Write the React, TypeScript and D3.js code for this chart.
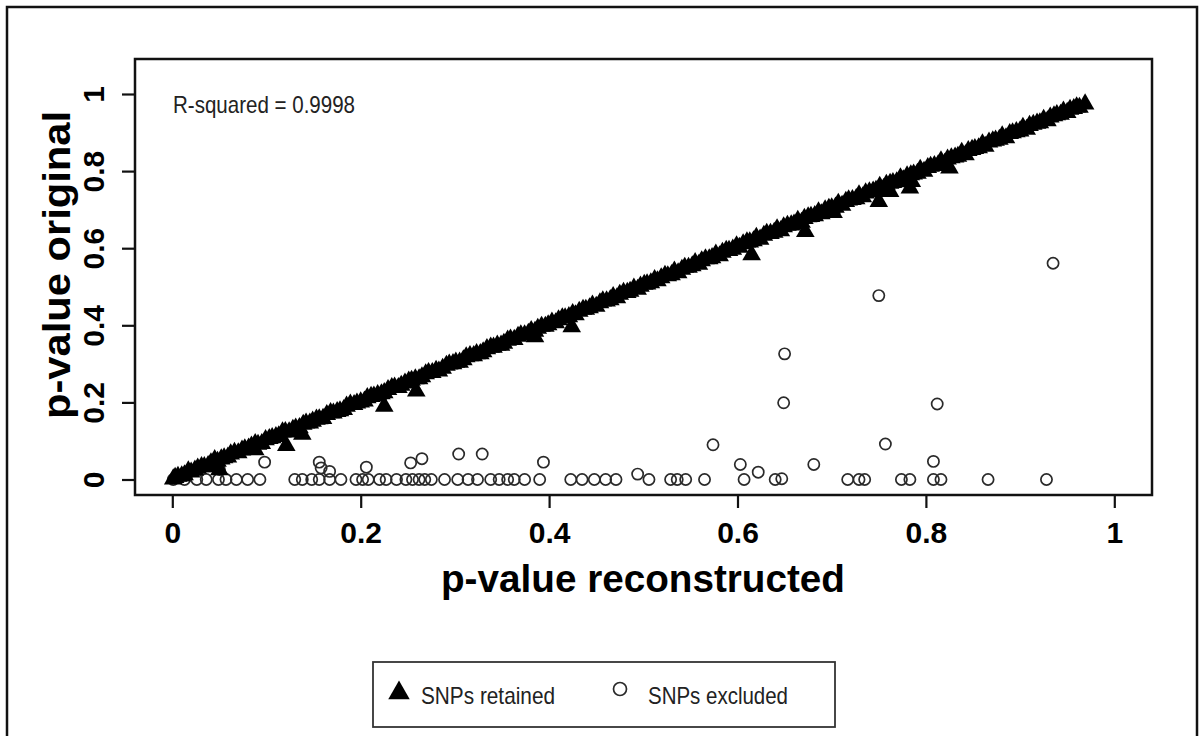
import React, { useEffect, useRef } from "react";
import * as d3 from "d3";

// retained SNPs (p reconstructed, p original) - the thick diagonal band
const retainedX = [
  0.001, 0.003, 0.010, 0.017, 0.024, 0.031, 0.038, 0.045, 0.052, 0.059, 0.066, 0.074, 0.081, 0.088,
  0.095, 0.103, 0.110, 0.117, 0.124, 0.131, 0.139, 0.146, 0.153, 0.160, 0.168, 0.175, 0.182, 0.189,
  0.196, 0.204, 0.211, 0.218, 0.225, 0.233, 0.240, 0.247, 0.254, 0.262, 0.269, 0.276, 0.283, 0.291,
  0.298, 0.305, 0.312, 0.320, 0.327, 0.334, 0.341, 0.349, 0.356, 0.363, 0.370, 0.378, 0.385, 0.392,
  0.399, 0.407, 0.414, 0.421, 0.428, 0.436, 0.443, 0.450, 0.457, 0.465, 0.472, 0.479, 0.486, 0.494,
  0.501, 0.508, 0.515, 0.523, 0.530, 0.537, 0.544, 0.552, 0.559, 0.566, 0.573, 0.581, 0.588, 0.595,
  0.602, 0.610, 0.617, 0.624, 0.631, 0.639, 0.646, 0.653, 0.660, 0.668, 0.675, 0.682, 0.689, 0.697,
  0.704, 0.711, 0.718, 0.726, 0.733, 0.740, 0.747, 0.755, 0.762, 0.769, 0.776, 0.784, 0.791, 0.798,
  0.805, 0.813, 0.820, 0.827, 0.834, 0.842, 0.849, 0.856, 0.863, 0.871, 0.878, 0.885, 0.892, 0.900,
  0.907, 0.914, 0.921, 0.929, 0.936, 0.943, 0.950, 0.957, 0.963, 0.969,
  // second pass, in between
  0.006, 0.013, 0.020, 0.027, 0.034, 0.041, 0.048, 0.055, 0.062, 0.070, 0.077, 0.084, 0.091, 0.099,
  0.106, 0.113, 0.120, 0.128, 0.135, 0.142, 0.149, 0.156, 0.164, 0.171, 0.178, 0.185, 0.193, 0.200,
  0.207, 0.214, 0.222, 0.229, 0.236, 0.243, 0.251, 0.258, 0.265, 0.272, 0.280, 0.287, 0.294, 0.301,
  0.309, 0.316, 0.323, 0.330, 0.338, 0.345, 0.352, 0.359, 0.367, 0.374, 0.381, 0.388, 0.396, 0.403,
  0.410, 0.417, 0.425, 0.432, 0.439, 0.446, 0.454, 0.461, 0.468, 0.475, 0.483, 0.490, 0.497, 0.504,
  0.512, 0.519, 0.526, 0.533, 0.541, 0.548, 0.555, 0.562, 0.570, 0.577, 0.584, 0.591, 0.599, 0.606,
  0.613, 0.620, 0.628, 0.635, 0.642, 0.649, 0.657, 0.664, 0.671, 0.678, 0.686, 0.693, 0.700, 0.707,
  0.715, 0.722, 0.729, 0.736, 0.744, 0.751, 0.758, 0.765, 0.773, 0.780, 0.787, 0.794, 0.802, 0.809,
  0.816, 0.823, 0.831, 0.838, 0.845, 0.852, 0.860, 0.867, 0.874, 0.881, 0.889, 0.896, 0.903, 0.910,
  0.918, 0.925, 0.932, 0.939, 0.946, 0.953, 0.960,
  // the few that fall below the line
  0.050, 0.088, 0.121, 0.138, 0.225, 0.259, 0.385, 0.424, 0.615, 0.672, 0.702, 0.750, 0.762, 0.783,
  0.785, 0.825,
];
const retainedY = [
  0.001, 0.005, 0.009, 0.022, 0.024, 0.033, 0.036, 0.051, 0.053, 0.058, 0.070, 0.076, 0.081, 0.093,
  0.093, 0.106, 0.111, 0.123, 0.123, 0.133, 0.143, 0.146, 0.156, 0.158, 0.173, 0.176, 0.181, 0.195,
  0.198, 0.203, 0.215, 0.220, 0.225, 0.238, 0.238, 0.250, 0.257, 0.261, 0.274, 0.277, 0.281, 0.296,
  0.300, 0.304, 0.318, 0.321, 0.326, 0.339, 0.343, 0.348, 0.361, 0.363, 0.375, 0.379, 0.384, 0.397,
  0.401, 0.406, 0.419, 0.422, 0.427, 0.441, 0.445, 0.449, 0.463, 0.466, 0.471, 0.485, 0.488, 0.493,
  0.506, 0.510, 0.515, 0.529, 0.531, 0.536, 0.550, 0.554, 0.558, 0.572, 0.575, 0.580, 0.594, 0.597,
  0.602, 0.616, 0.619, 0.623, 0.638, 0.641, 0.645, 0.659, 0.662, 0.667, 0.681, 0.684, 0.689, 0.703,
  0.706, 0.711, 0.725, 0.728, 0.733, 0.746, 0.750, 0.754, 0.768, 0.772, 0.777, 0.790, 0.794, 0.799,
  0.812, 0.816, 0.820, 0.834, 0.838, 0.842, 0.856, 0.860, 0.864, 0.878, 0.882, 0.886, 0.899, 0.904,
  0.908, 0.921, 0.925, 0.930, 0.943, 0.947, 0.952, 0.962, 0.965, 0.974,
  0.008, 0.012, 0.019, 0.029, 0.033, 0.043, 0.047, 0.056, 0.066, 0.069, 0.079, 0.086, 0.091, 0.103,
  0.108, 0.113, 0.124, 0.130, 0.134, 0.146, 0.151, 0.157, 0.168, 0.172, 0.178, 0.190, 0.194, 0.201,
  0.212, 0.216, 0.222, 0.233, 0.239, 0.244, 0.255, 0.261, 0.266, 0.277, 0.283, 0.288, 0.299, 0.304,
  0.310, 0.321, 0.326, 0.331, 0.343, 0.348, 0.353, 0.364, 0.371, 0.375, 0.386, 0.392, 0.397, 0.408,
  0.414, 0.419, 0.430, 0.436, 0.441, 0.452, 0.458, 0.463, 0.474, 0.480, 0.485, 0.496, 0.501, 0.507,
  0.518, 0.523, 0.528, 0.540, 0.545, 0.550, 0.562, 0.567, 0.572, 0.584, 0.589, 0.594, 0.606, 0.611,
  0.616, 0.628, 0.633, 0.638, 0.650, 0.655, 0.660, 0.672, 0.677, 0.682, 0.694, 0.699, 0.704, 0.716,
  0.721, 0.726, 0.738, 0.743, 0.748, 0.760, 0.765, 0.770, 0.782, 0.787, 0.792, 0.804, 0.809, 0.814,
  0.826, 0.831, 0.836, 0.848, 0.853, 0.858, 0.870, 0.875, 0.880, 0.891, 0.897, 0.902, 0.913, 0.918,
  0.924, 0.934, 0.940, 0.946, 0.955, 0.960, 0.966,
  0.025, 0.077, 0.088, 0.117, 0.190, 0.229, 0.370, 0.396, 0.583, 0.643, 0.692, 0.721, 0.747, 0.756,
  0.773, 0.808,
];

// excluded SNPs
const excludedX = [
  0.001, 0.013, 0.026, 0.036, 0.049, 0.057, 0.068, 0.080, 0.093, 0.130, 0.138, 0.148, 0.156, 0.167,
  0.179, 0.195, 0.202, 0.208, 0.220, 0.227, 0.238, 0.248, 0.255, 0.262, 0.268, 0.275, 0.289, 0.303,
  0.314, 0.324, 0.338, 0.347, 0.356, 0.363, 0.374, 0.390, 0.423, 0.435, 0.448, 0.460, 0.471, 0.494,
  0.506, 0.529, 0.536, 0.545, 0.565, 0.607, 0.622, 0.640, 0.647, 0.717, 0.729, 0.735, 0.774, 0.783,
  0.808, 0.816, 0.866, 0.928,
  0.050, 0.098, 0.156, 0.158, 0.167, 0.206, 0.253, 0.265, 0.304, 0.329, 0.394, 0.574, 0.603, 0.681,
  0.757, 0.808, 0.649, 0.812, 0.650, 0.750, 0.935,
];
const excludedY = [
  0, 0, 0, 0, 0, 0, 0, 0, 0, 0, 0, 0, 0, 0,
  0, 0, 0, 0, 0, 0, 0, 0, 0, 0, 0, 0, 0, 0,
  0, 0, 0, 0, 0, 0, 0, 0, 0, 0, 0, 0, 0, 0.014,
  0, 0, 0, 0, 0, 0, 0.019, 0, 0.002, 0, 0, 0, 0, 0,
  0, 0, 0, 0,
  0.026, 0.045, 0.045, 0.030, 0.021, 0.032, 0.043, 0.054, 0.066, 0.066, 0.045, 0.090, 0.039, 0.039,
  0.092, 0.047, 0.199, 0.196, 0.326, 0.477, 0.561,
];

const ticks = [0, 0.2, 0.4, 0.6, 0.8, 1];
const tickLabels = ["0", "0.2", "0.4", "0.6", "0.8", "1"];
const legendLabels = ["SNPs retained", "SNPs excluded"];
const rsqText = "R-squared = 0.9998";

const W = 1202, H = 736;
const font = "'Liberation Sans', Arial, sans-serif";

export default function App() {
  const ref = useRef<SVGSVGElement>(null);

  useEffect(() => {
    const svg = d3.select(ref.current);
    svg.selectAll("*").remove();

    const box = { left: 135, top: 59, right: 1152, bottom: 495 };
    const x = d3.scaleLinear().domain([0, 1]).range([172.3, 1114.3]);
    const y = d3.scaleLinear().domain([0, 1]).range([479.5, 94]);

    svg.append("rect").attr("width", W).attr("height", H).attr("fill", "#fff");

    // outer frame
    svg.append("rect")
      .attr("x", 7).attr("y", 7).attr("width", 1190).attr("height", 740)
      .attr("fill", "none").attr("stroke", "#111").attr("stroke-width", 2.5);

    // axes (R style: ticks outside, box around plot)
    const xAxis = svg.append("g")
      .attr("transform", `translate(0,${box.bottom})`)
      .call(d3.axisBottom(x).tickValues(ticks).tickSize(13).tickPadding(8)
        .tickFormat((_, i) => tickLabels[i]));
    xAxis.select(".domain").remove();
    xAxis.selectAll("line").attr("stroke", "#111").attr("stroke-width", 2.2);
    xAxis.selectAll("text")
      .attr("font-family", font).attr("font-weight", "bold").attr("font-size", 30)
      .attr("fill", "#000").attr("dy", 0).attr("y", 48);

    const yAxis = svg.append("g")
      .attr("transform", `translate(${box.left},0)`)
      .call(d3.axisLeft(y).tickValues(ticks).tickSize(13)
        .tickFormat((_, i) => tickLabels[i]));
    yAxis.select(".domain").remove();
    yAxis.selectAll("line").attr("stroke", "#111").attr("stroke-width", 2.2);
    yAxis.selectAll("text")
      .attr("font-family", font).attr("font-weight", "bold").attr("font-size", 30)
      .attr("fill", "#000").attr("x", null).attr("dy", 0)
      .attr("text-anchor", "middle")
      .attr("transform", "translate(-31,0) rotate(-90)");

    svg.append("rect")
      .attr("x", box.left).attr("y", box.top)
      .attr("width", box.right - box.left).attr("height", box.bottom - box.top)
      .attr("fill", "none").attr("stroke", "#111").attr("stroke-width", 2.5);

    // excluded: open circles
    svg.append("g").selectAll("circle")
      .data(d3.range(excludedX.length))
      .join("circle")
      .attr("cx", (i) => x(excludedX[i]))
      .attr("cy", (i) => y(excludedY[i]))
      .attr("r", 5.6)
      .attr("fill", "none").attr("stroke", "#2a2a2a").attr("stroke-width", 1.7);

    // retained: filled triangles
    const tri = d3.symbol().type(d3.symbolTriangle).size(150);
    svg.append("g").selectAll("path")
      .data(d3.range(retainedX.length))
      .join("path")
      .attr("d", tri)
      .attr("transform", (i) => `translate(${x(retainedX[i])},${y(retainedY[i])})`)
      .attr("fill", "#000");

    svg.append("text")
      .attr("x", 173).attr("y", 113)
      .attr("font-family", font).attr("font-size", 24)
      .attr("textLength", 182).attr("lengthAdjust", "spacingAndGlyphs")
      .attr("fill", "#222").text(rsqText);

    // axis titles
    svg.append("text")
      .attr("x", 643).attr("y", 592)
      .attr("text-anchor", "middle")
      .attr("font-family", font).attr("font-weight", "bold").attr("font-size", 38)
      .attr("textLength", 404).attr("lengthAdjust", "spacingAndGlyphs")
      .attr("fill", "#000").text("p-value reconstructed");

    svg.append("text")
      .attr("transform", "translate(70,265) rotate(-90)")
      .attr("text-anchor", "middle")
      .attr("font-family", font).attr("font-weight", "bold").attr("font-size", 38)
      .attr("textLength", 308).attr("lengthAdjust", "spacingAndGlyphs")
      .attr("fill", "#000").text("p-value original");

    // legend
    const lg = svg.append("g");
    lg.append("rect")
      .attr("x", 373).attr("y", 662).attr("width", 462).attr("height", 65)
      .attr("fill", "#fff").attr("stroke", "#333").attr("stroke-width", 1.8);
    lg.append("path")
      .attr("d", d3.symbol().type(d3.symbolTriangle).size(200))
      .attr("transform", "translate(399,693)").attr("fill", "#000");
    lg.append("circle")
      .attr("cx", 620).attr("cy", 689).attr("r", 6.5)
      .attr("fill", "none").attr("stroke", "#2a2a2a").attr("stroke-width", 1.7);
    const legendPos = [[421, 134], [648, 140]];
    legendLabels.forEach((t, i) => {
      lg.append("text")
        .attr("x", legendPos[i][0]).attr("y", 704)
        .attr("font-family", font).attr("font-size", 24)
        .attr("textLength", legendPos[i][1]).attr("lengthAdjust", "spacingAndGlyphs")
        .attr("fill", "#222").text(t);
    });
  }, []);

  return (
    <svg ref={ref} width={W} height={H} style={{ display: "block", position: "absolute", left: 0, top: 0 }} />
  );
}
